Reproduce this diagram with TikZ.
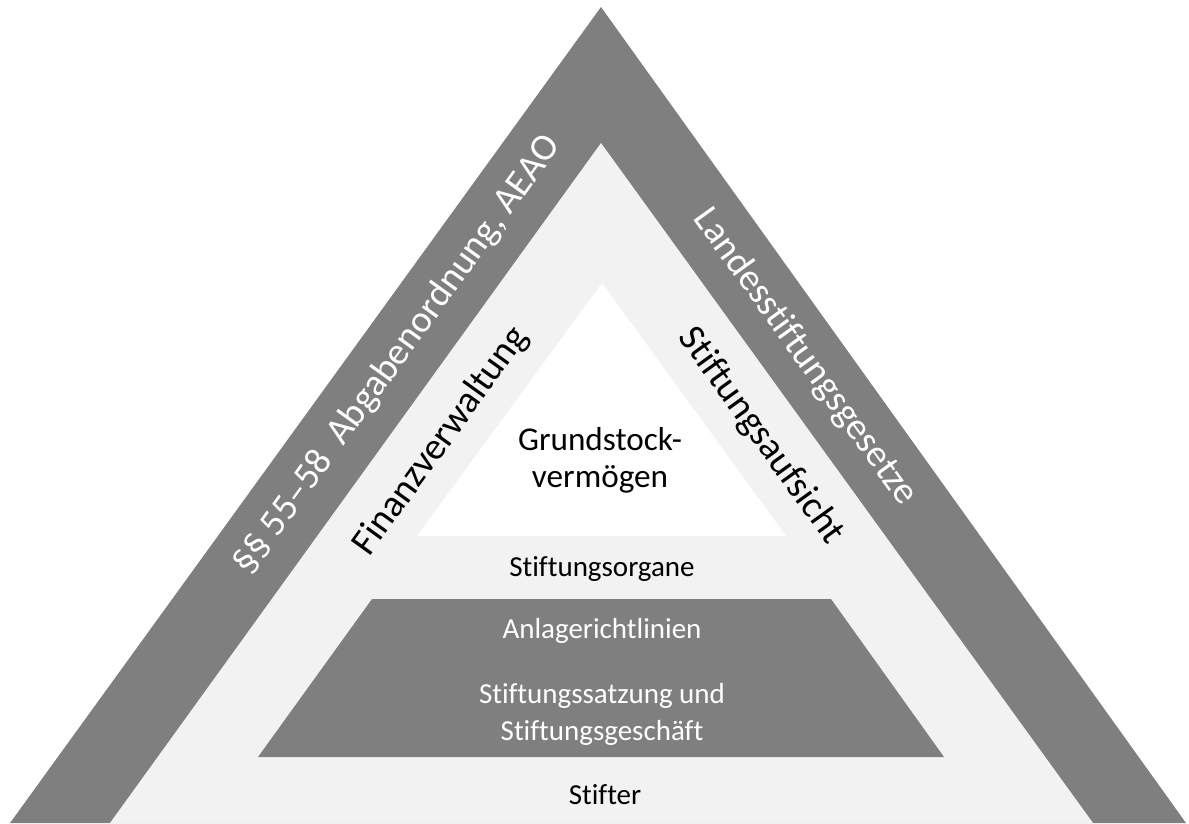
\documentclass[tikz,border=0pt]{standalone}
\usepackage{fontspec}
\setmainfont{Carlito}[RawFeature={-liga;-clig}]
\definecolor{darkband}{HTML}{7F7F7F}
\definecolor{lightband}{HTML}{F2F2F2}
\tikzset{
  small/.style={font=\fontsize{16.5}{21}\selectfont, align=center, inner sep=0pt},
  mid/.style={font=\fontsize{18.9}{21.2}\selectfont, align=center, inner sep=0pt},
  big/.style={font=\fontsize{21.6}{25}\selectfont, inner sep=0pt},
}
\begin{document}
\begin{tikzpicture}[x=0.02cm, y=-0.02cm]
\useasboundingbox (0,0) rectangle (1189,823);
% outer dark triangle
\fill[darkband] (601,7) -- (10,823) -- (1186,823) -- cycle;
% inner light triangle
\fill[lightband] (601,143) -- (110,823) -- (1093,823) -- cycle;
% white triangle
\fill[white] (602,283) -- (417,536) -- (786,536) -- cycle;
% trapezoid
\fill[darkband] (372,599) -- (831,599) -- (944,757) -- (258,757) -- cycle;

\node[mid] (grund) at (600,460) {Grundstock-\\vermögen};
\node[small] (organe) at (602,569) {Stiftungsorgane};
\node[small, text=white] (anlage) at (602,631) {Anlagerichtlinien};
\node[small, text=white] (satzung) at (602,714) {Stiftungssatzung und\\Stiftungsgeschäft};
\node[small] (stifter) at (605,795) {Stifter};

\node[big, text=white, rotate=54.2] (ao) at (398,355) {§§ 55–58~~Abgabenordnung, AEAO};
\node[big, rotate=54.2] (finanz) at (441,441) {Finanzverwaltung};
\node[big, text=white, rotate=-54.2] (land) at (805,357) {Landesstiftungsgesetze};
\node[big, rotate=-54.2] (aufsicht) at (761,436) {Stiftungsaufsicht};
\end{tikzpicture}
\end{document}
